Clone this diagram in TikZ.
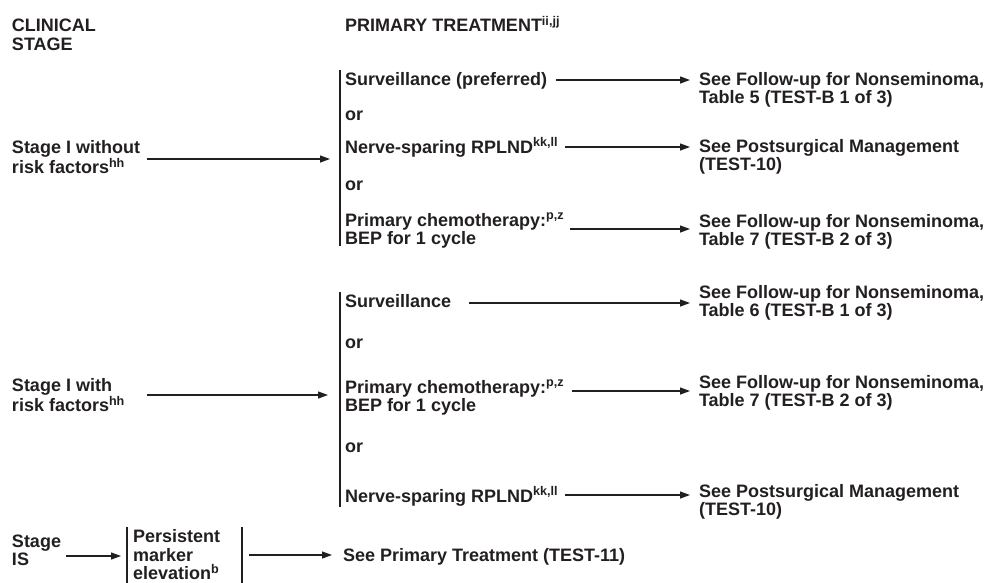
\documentclass[tikz,border=0pt]{standalone}
\usepackage{fontspec}
\setmainfont{Liberation Sans}
\usetikzlibrary{arrows.meta}
\definecolor{ink}{HTML}{231F20}
\begin{document}
% a node's base anchor sits on the baseline of its last line
\begin{tikzpicture}[x=1pt,y=-1pt,
  every node/.style={inner sep=0pt, outer sep=0pt, anchor=base west, align=left,
    text=ink, font=\fontsize{18}{18.5}\selectfont\bfseries},
  arr/.style={draw=ink, line width=1.25pt, -{Triangle[length=10pt,width=7pt]}},
  bar/.style={draw=ink, line width=1.4pt}]
\useasboundingbox (0,0) rectangle (992,582);

% column headings
\node (hstage) at (12,50.2) {CLINICAL\\STAGE};
\node (htreat) at (345,31.7) {PRIMARY TREATMENT\textsuperscript{ii,jj}};

% ---- Stage I without risk factors ----
\node (st1) at (12,173.5) {Stage I without\\risk factors\textsuperscript{hh}};
\coordinate (b1top) at (340,70);
\coordinate (b1bot) at (340,246);
\draw[bar] (b1top) -- (b1bot);
\node (g1surv)  at (345,85)  {Surveillance (preferred)};
\node (g1or1)   at (345,120) {or};
\node (g1rplnd) at (345,153) {Nerve-sparing RPLND\textsuperscript{kk,ll}};
\node (g1or2)   at (345,190) {or};
\node (g1chemo) at (345,244.5) {Primary chemotherapy:\textsuperscript{p,z}\\BEP for 1 cycle};
\node (fu5)   at (699,103.5) {See Follow-up for Nonseminoma,\\Table 5 (TEST-B 1 of 3)};
\node (post1) at (699,170.5) {See Postsurgical Management\\(TEST-10)};
\node (fu7a)  at (699,245.5) {See Follow-up for Nonseminoma,\\Table 7 (TEST-B 2 of 3)};

\draw[arr, shorten >=10pt] ([shift={(135,-14.5)}]st1.base west) coordinate (p1) -- (p1 -| b1top);
\draw[arr, shorten >=9pt] ([shift={(9,-5)}]g1surv.base east) coordinate (p2) -- (p2 -| fu5.west);
\draw[arr, shorten >=9pt] ([shift={(7,-6)}]g1rplnd.base east) coordinate (p3) -- (p3 -| post1.west);
\draw[arr, shorten >=9pt] ([shift={(225,-15.5)}]g1chemo.base west) coordinate (p4) -- (p4 -| fu7a.west);

% ---- Stage I with risk factors ----
\node (st2) at (12,411.5) {Stage I with\\risk factors\textsuperscript{hh}};
\coordinate (b2top) at (340,292);
\coordinate (b2bot) at (340,507);
\draw[bar] (b2top) -- (b2bot);
\node (g2surv)  at (345,307) {Surveillance};
\node (g2or1)   at (345,348) {or};
\node (g2chemo) at (345,411.5) {Primary chemotherapy:\textsuperscript{p,z}\\BEP for 1 cycle};
\node (g2or2)   at (345,452) {or};
\node (g2rplnd) at (345,502) {Nerve-sparing RPLND\textsuperscript{kk,ll}};
\node (fu6)   at (699,316.5) {See Follow-up for Nonseminoma,\\Table 6 (TEST-B 1 of 3)};
\node (fu7b)  at (699,406.5) {See Follow-up for Nonseminoma,\\Table 7 (TEST-B 2 of 3)};
\node (post2) at (699,515.5) {See Postsurgical Management\\(TEST-10)};

\draw[arr, shorten >=12pt] ([shift={(135,-16.5)}]st2.base west) coordinate (q1) -- (q1 -| b2top);
\draw[arr, shorten >=9pt] ([shift={(18,-4)}]g2surv.base east) coordinate (q2) -- (q2 -| fu6.west);
\draw[arr, shorten >=9pt] ([shift={(227,-20.5)}]g2chemo.base west) coordinate (q3) -- (q3 -| fu7b.west);
\draw[arr, shorten >=9pt] ([shift={(7,-7)}]g2rplnd.base east) coordinate (q4) -- (q4 -| post2.west);

% ---- Stage IS ----
\node (st3) at (12,565.5) {Stage\\IS};
\coordinate (b3top) at (127,527);
\coordinate (b3bot) at (127,584);
\coordinate (b4top) at (242,527);
\coordinate (b4bot) at (242,584);
\draw[bar] (b3top) -- (b3bot);
\draw[bar] (b4top) -- (b4bot);
\node (pme) at (133,579.5) {Persistent\\marker\\elevation\textsuperscript{b}};
\node (spt) at (343,561.5) {See Primary Treatment (TEST-11)};

\draw[arr, shorten >=6pt] ([shift={(54,-9.5)}]st3.base west) coordinate (r1) -- (r1 -| b3top);
\draw[arr, shorten >=11pt] ([shift={(7,0)}]b4top |- spt.base west) ++(0,-6.5) coordinate (r2) -- (r2 -| spt.west);
\end{tikzpicture}
\end{document}
